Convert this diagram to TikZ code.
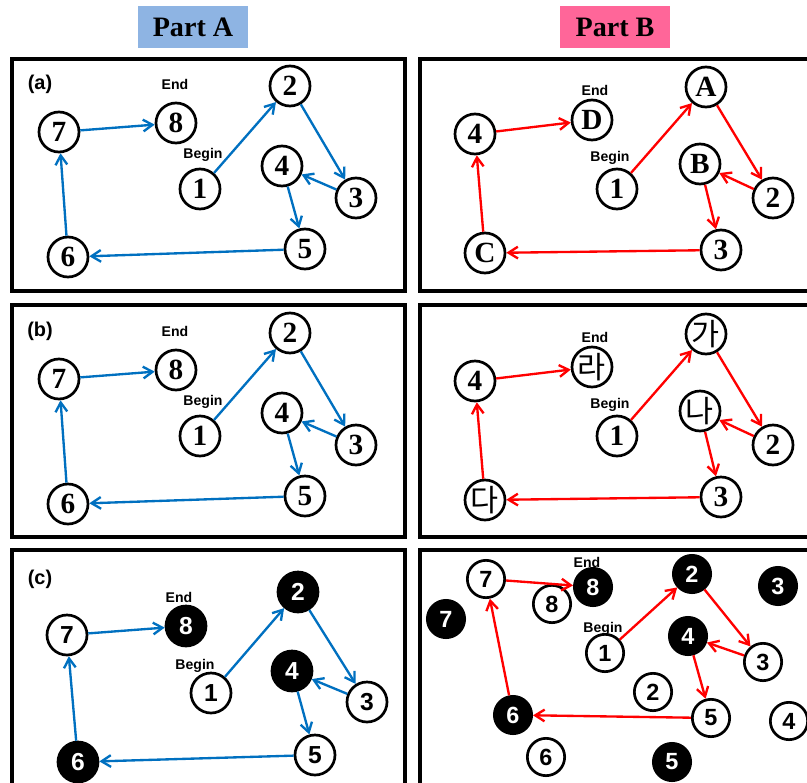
\documentclass[tikz,border=0pt]{standalone}
\usepackage{fontspec}
\setmainfont{Liberation Serif}
\newfontfamily\arialfont{Liberation Sans}
\newfontfamily\hangulfont{Noto Sans CJK KR}
\usetikzlibrary{arrows.meta}
\definecolor{partblue}{RGB}{142,180,227}
\definecolor{partpink}{RGB}{255,102,153}
\definecolor{arrowblue}{RGB}{0,112,192}

\begin{document}
\begin{tikzpicture}[x=0.03cm, y=-0.03cm,
    panel/.style={draw, line width=3.4pt},
    num/.style={circle, draw, line width=2.3pt, minimum size=1.2cm, inner sep=0pt, fill=white,
      font=\fontsize{25}{25}\selectfont\bfseries},
    snum/.style={num, font=\arialfont\fontsize{21}{21}\selectfont\bfseries},
    dark/.style={snum, fill=black, text=white},
    rnum/.style={snum, minimum size=1.12cm, font=\arialfont\fontsize{20}{20}\selectfont\bfseries},
    rdark/.style={rnum, fill=black, text=white},
    hnum/.style={num, font=\hangulfont\fontsize{26}{26}\selectfont},
    tag/.style={font=\arialfont\fontsize{12}{12}\selectfont\bfseries},
    caption/.style={font=\arialfont\fontsize{17}{17}\selectfont\bfseries},
    part/.style={minimum width=3.3cm, minimum height=1.26cm, inner sep=0pt,
      font=\fontsize{24}{24}\selectfont\bfseries},
    blue arrow/.style={draw=arrowblue, line width=2pt, -{Straight Barb[length=8pt,width=10pt]}},
    red arrow/.style={blue arrow, draw=red}]
  \useasboundingbox (0,0) rectangle (807,783);
  \clip (0,0) rectangle (807,783);

  % headings
  \node[part, fill=partblue] (partA) at (193,27) {Part A};
  \node[part, fill=partpink] (partB) at (615,27) {Part B};

  % frames
  \foreach \y in {0,246} {
    \draw[panel] (12,59+\y) rectangle (405,291+\y);
    \draw[panel] (420,59+\y) rectangle (830,291+\y);
  }
  \draw[panel] (12,550) rectangle (405,800);
  \draw[panel] (420,550) rectangle (830,800);

  % (a) and (b), part A
  \foreach \y/\p in {0/a,247/b} {
    \begin{scope}[shift={(0,\y)}]
      \node[caption] (\p-cap) at (40,84) {(\p)};
      \node[tag] (\p-end) at (175,84) {End};
      \node[tag] (\p-begin) at (203,155) {Begin};
      \node[num] (\p1) at (200,189) {1};
      \node[num] (\p2) at (290,86) {2};
      \node[num] (\p3) at (356,198) {3};
      \node[num] (\p4) at (282,166) {4};
      \node[num] (\p5) at (305,249) {5};
      \node[num] (\p6) at (68,257) {6};
      \node[num] (\p7) at (59,132) {7};
      \node[num] (\p8) at (176,123) {8};
      \foreach \s/\t in {1/2,2/3,3/4,4/5,5/6,6/7,7/8}
        \draw[blue arrow] (\p\s) -- (\p\t);
    \end{scope}
  }

  % (a) and (b), part B
  \foreach \y/\p/\la/\lb/\lc/\ld/\st in {0/ra/A/B/C/D/num,247/rb/가/나/다/라/hnum} {
    \begin{scope}[shift={(0,\y)}]
      \node[tag] (\p-end) at (595,90) {End};
      \node[tag] (\p-begin) at (610,158) {Begin};
      \node[num] (\p1) at (617,189) {1};
      \node[\st] (\p2) at (706,87) {\la};
      \node[num] (\p3) at (773,198) {2};
      \node[\st] (\p4) at (700,164) {\lb};
      \node[num] (\p5) at (721,250) {3};
      \node[\st] (\p6) at (485,253) {\lc};
      \node[num] (\p7) at (475,134) {4};
      \node[\st] (\p8) at (592,120) {\ld};
      \foreach \s/\t in {1/2,2/3,3/4,4/5,5/6,6/7,7/8}
        \draw[red arrow] (\p\s) -- (\p\t);
    \end{scope}
  }

  % (c), part A
  \node[caption] (c-cap) at (40,579) {(c)};
  \node[tag] (c-end) at (179,597) {End};
  \node[tag] (c-begin) at (195,666) {Begin};
  \node[snum] (c1) at (211,693) {1};
  \node[dark] (c2) at (298,592) {2};
  \node[snum] (c3) at (367,702) {3};
  \node[dark] (c4) at (292,671) {4};
  \node[snum] (c5) at (315,755) {5};
  \node[dark] (c6) at (78,762) {6};
  \node[snum] (c7) at (67,635) {7};
  \node[dark] (c8) at (186,626) {8};
  \foreach \s/\t in {1/2,2/3,3/4,4/5,5/6,6/7,7/8}
    \draw[blue arrow] (c\s) -- (c\t);

  % (c), part B
  \node[tag] (rc-end) at (587,562) {End};
  \node[tag] (rc-begin) at (603,629) {Begin};
  \node[rnum] (rc1) at (605,653) {1};
  \node[rdark] (rc2) at (692,574) {2};
  \node[rnum] (rc3) at (763,662) {3};
  \node[rdark] (rc4) at (688,636) {4};
  \node[rnum] (rc5) at (711,718) {5};
  \node[rdark] (rc6) at (513,715) {6};
  \node[rnum] (rc7) at (486,579) {7};
  \node[rdark] (rc8) at (593,587) {8};
  % spare ones
  \node[rnum] (rx8) at (552,604) {8};
  \node[rdark] (rx7) at (446,619) {7};
  \node[rdark] (rx3) at (778,586) {3};
  \node[rnum] (rx2) at (653,692) {2};
  \node[rnum] (rx4) at (789,721) {4};
  \node[rnum] (rx6) at (546,757) {6};
  \node[rdark] (rx5) at (672,762) {5};
  \foreach \s/\t in {1/2,2/3,3/4,4/5,5/6,6/7,7/8}
    \draw[red arrow] (rc\s) -- (rc\t);
\end{tikzpicture}
\end{document}
